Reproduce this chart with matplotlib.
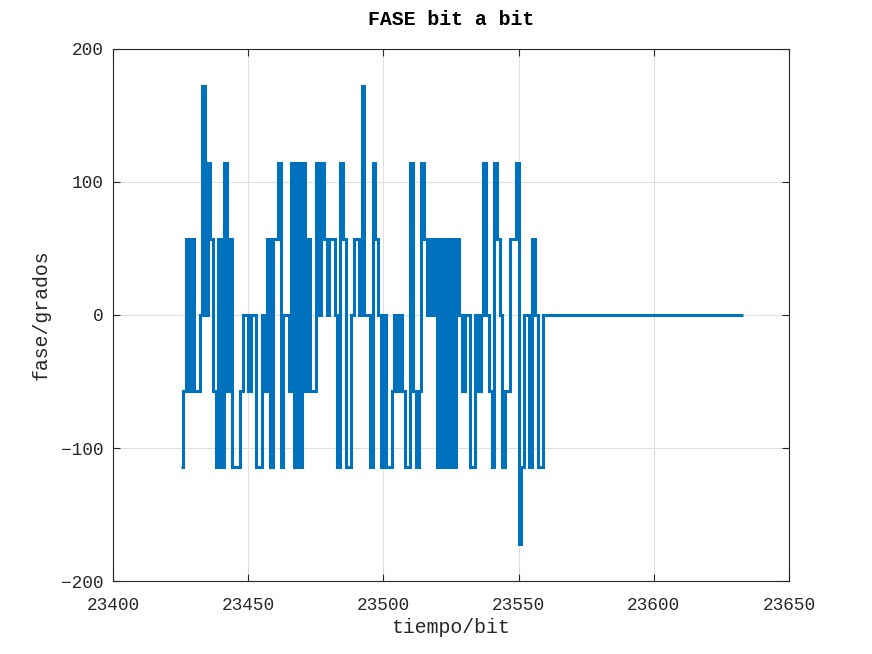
import numpy as np
import matplotlib
matplotlib.use('Agg')
import matplotlib.pyplot as plt

# Phase per bit, in units of one radian (shown in degrees)
bit_start = 23425
phase_k = [
    -2, -1, 1, -1, 1, -1, -1, 0, 3, 0,      # 23425-23434
    2, 1, -1, -2, 1, -2, 2, -1, 1, -2,      # 23435-23444
    -2, -2, -1, 0, 0, -1, 0, 0, -2, -2,     # 23445-23454
    0, -1, 1, -2, 1, 1, 2, -2, 0, 0,        # 23455-23464
    -1, 2, -2, 2, -2, 2, -1, 1, -1, -1,     # 23465-23474
    2, 0, 2, 1, 0, 1, 1, 0, -2, 2,          # 23475-23484
    1, -2, -2, 0, 1, 1, 0, 3, 0, 0,         # 23485-23494
    -2, 2, 1, 0, -2, 0, -2, -2, -1, 0,      # 23495-23504
    -1, 0, -1, -2, -2, 2, -1, -2, -1, 2,    # 23505-23514
    1, 0, 1, 0, 1, -2, 1, -2, 1, -2,        # 23515-23524
    1, -2, 1, 0, -1, 0, 0, -2, -2, 0,       # 23525-23534
    -1, 0, 2, 0, -1, -2, 2, 1, 0, -2,       # 23535-23544
    -1, -1, 1, 1, 2, -3, -2, 0, 0, -2,      # 23545-23554
    1, 0, -2, -2,                           # 23555-23558
]
n_zero_bits = 74   # flat tail at 0 up to 23633

fase = np.array(phase_k + [0] * n_zero_bits) * 180 / np.pi
t = bit_start + np.arange(len(fase) + 1)

plt.rcParams['font.family'] = ['Liberation Mono', 'DejaVu Sans Mono']

fig = plt.figure(figsize=(8.72, 6.54), dpi=100)
ax = fig.add_axes([0.1296, 0.1116, 0.7752, 0.8135])

ax.stairs(fase, t, baseline=None, color='#0072BD', linewidth=2.2)

ax.set_xlim(23400, 23650)
ax.set_ylim(-200, 200)
ax.set_xticks([23400, 23450, 23500, 23550, 23600, 23650])
ax.set_yticks([-200, -100, 0, 100, 200])
ax.grid(True, color='#dfdfdf', linewidth=0.8)
ax.set_axisbelow(True)
for s in ax.spines.values():
    s.set_color('#262626')
    s.set_linewidth(0.8)
ax.tick_params(direction='in', top=True, right=True, length=5,
               width=0.8, colors='#262626', labelsize=12.8)
ax.tick_params(axis='x', pad=11.5)
ax.tick_params(axis='y', pad=6.5)

ax.set_xlabel('tiempo/bit', fontsize=14.3, color='#262626', labelpad=3)
ax.set_ylabel('fase/grados', fontsize=14.3, color='#262626', labelpad=8)
ax.set_title('FASE bit a bit', fontsize=14.3, fontweight='bold', pad=17)

fig.savefig('out.png', dpi=100)
